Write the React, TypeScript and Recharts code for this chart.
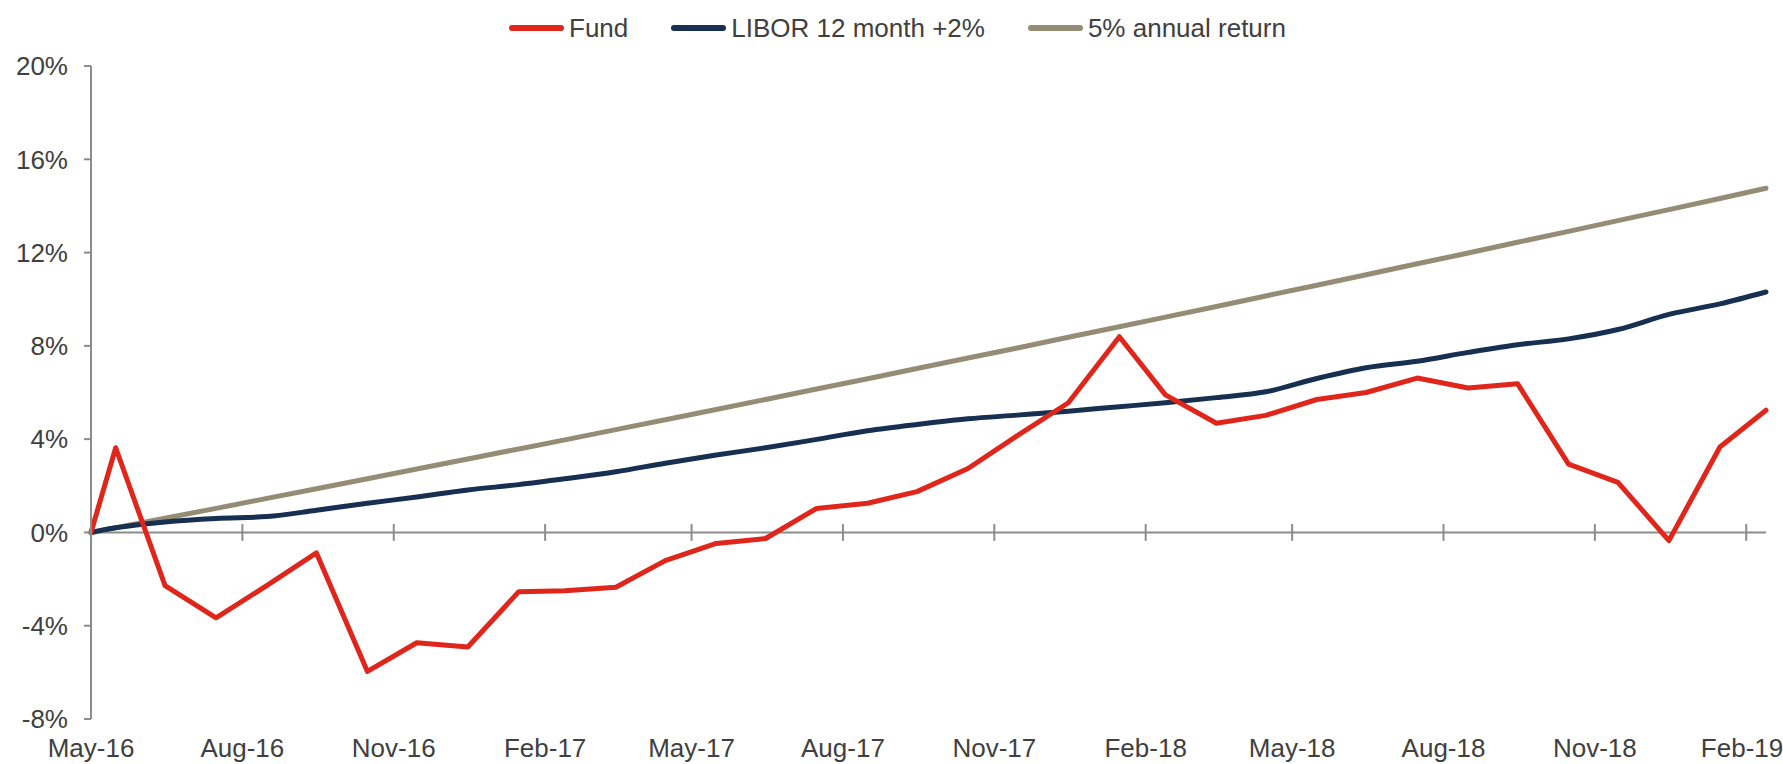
import { LineChart, Line, XAxis, YAxis, ReferenceLine } from "recharts";

const dates = [
  "2016-05-16", "2016-05-31", "2016-06-30", "2016-07-31", "2016-08-31", "2016-09-30",
  "2016-10-31", "2016-11-30", "2016-12-31", "2017-01-31", "2017-02-28", "2017-03-31",
  "2017-04-30", "2017-05-31", "2017-06-30", "2017-07-31", "2017-08-31", "2017-09-30",
  "2017-10-31", "2017-11-30", "2017-12-31", "2018-01-31", "2018-02-28", "2018-03-31",
  "2018-04-30", "2018-05-31", "2018-06-30", "2018-07-31", "2018-08-31", "2018-09-30",
  "2018-10-31", "2018-11-30", "2018-12-31", "2019-01-31", "2019-02-28",
];

const fund = [
  0, 3.63, -2.28, -3.66, -2.27, -0.88, -5.96, -4.73, -4.91, -2.54, -2.5, -2.35,
  -1.21, -0.47, -0.26, 1.03, 1.25, 1.75, 2.74, 4.15, 5.56, 8.39, 5.9, 4.68,
  5.02, 5.7, 6.0, 6.62, 6.19, 6.38, 2.93, 2.15, -0.35, 3.66, 5.24,
];

const libor = [
  0, 0.2, 0.45, 0.6, 0.68, 0.95, 1.25, 1.52, 1.82, 2.05, 2.3, 2.6,
  2.97, 3.32, 3.63, 3.99, 4.36, 4.63, 4.87, 5.03, 5.2, 5.39, 5.56, 5.78,
  6.03, 6.6, 7.06, 7.34, 7.72, 8.05, 8.3, 8.7, 9.35, 9.8, 10.31,
];

const annual5 = [
  0, 0.2, 0.61, 1.03, 1.46, 1.87, 2.3, 2.72, 3.15, 3.58, 3.97, 4.41,
  4.83, 5.27, 5.7, 6.15, 6.59, 7.03, 7.48, 7.91, 8.37, 8.82, 9.23, 9.69,
  10.14, 10.6, 11.05, 11.52, 11.98, 12.44, 12.91, 13.37, 13.84, 14.32, 14.76,
];

const tickDates = [
  "2016-05-16", "2016-08-16", "2016-11-16", "2017-02-16", "2017-05-16", "2017-08-16",
  "2017-11-16", "2018-02-16", "2018-05-16", "2018-08-16", "2018-11-16", "2019-02-16",
];
const tickLabels = [
  "May-16", "Aug-16", "Nov-16", "Feb-17", "May-17", "Aug-17",
  "Nov-17", "Feb-18", "May-18", "Aug-18", "Nov-18", "Feb-19",
];

const yTicks = [-8, -4, 0, 4, 8, 12, 16, 20];

const series = [
  { key: "fund", name: "Fund", color: "#E0251B" },
  { key: "libor", name: "LIBOR 12 month +2%", color: "#172F50" },
  { key: "annual5", name: "5% annual return", color: "#958C75" },
];

const FONT = "'Liberation Sans', Arial, sans-serif";
const TEXT = "#404040";
const AXIS = "#8C8C8C";

const data = dates.map((d, i) => ({
  t: Date.parse(d),
  fund: fund[i],
  libor: libor[i],
  annual5: annual5[i],
}));

const tickTimes = tickDates.map((d) => Date.parse(d));

function XTick(props: any) {
  const { x, y, index } = props;
  // last label sits against the right edge, keep it inside the picture
  const last = index === tickLabels.length - 1;
  return (
    <text
      x={last ? x + 37 : x}
      y={y + 38}
      textAnchor={last ? "end" : "middle"}
      fill={TEXT}
      fontSize={26}
      fontFamily={FONT}
    >
      {tickLabels[index]}
    </text>
  );
}

function ChartLegend() {
  return (
    <div
      style={{
        position: "absolute",
        top: 13,
        left: 509,
        height: 30,
        display: "flex",
        alignItems: "center",
        fontFamily: FONT,
        fontSize: 26,
        lineHeight: "30px",
        color: TEXT,
        whiteSpace: "nowrap",
      }}
    >
      {series.map((s, i) => (
        <div key={s.key} style={{ display: "flex", alignItems: "center", marginLeft: i === 0 ? 0 : 43 }}>
          <div style={{ width: 55, height: 6, borderRadius: 3, background: s.color, marginRight: 5 }} />
          <span>{s.name}</span>
        </div>
      ))}
    </div>
  );
}

export default function App() {
  return (
    <div style={{ position: "absolute", left: 0, top: 0, width: 1783, height: 764, background: "#fff" }}>
      <ChartLegend />
      <LineChart
        width={1783}
        height={764}
        data={data}
        margin={{ top: 66, right: 17, bottom: 0, left: 0 }}
      >
        <XAxis
          dataKey="t"
          type="number"
          domain={["dataMin", "dataMax"]}
          ticks={tickTimes}
          interval={0}
          axisLine={false}
          tickLine={false}
          tickSize={0}
          tickMargin={0}
          height={45}
          tick={<XTick />}
        />
        <YAxis
          domain={[-8, 20]}
          ticks={yTicks}
          width={91}
          tickSize={7}
          tickMargin={16}
          tickFormatter={(v: number) => `${v}%`}
          axisLine={{ stroke: AXIS, strokeWidth: 2 }}
          tickLine={{ stroke: AXIS, strokeWidth: 2 }}
          tick={{ fill: TEXT, fontSize: 26, fontFamily: FONT }}
        />
        <ReferenceLine y={0} stroke={AXIS} strokeWidth={2} />
        {tickTimes.map((t) => (
          <ReferenceLine
            key={t}
            segment={[{ x: t, y: -0.36 }, { x: t, y: 0.36 }]}
            stroke={AXIS}
            strokeWidth={2}
          />
        ))}
        <Line
          dataKey="annual5"
          name="5% annual return"
          stroke="#958C75"
          strokeWidth={5}
          dot={false}
          strokeLinecap="round"
          strokeLinejoin="round"
          isAnimationActive={false}
        />
        <Line
          dataKey="libor"
          name="LIBOR 12 month +2%"
          type="monotone"
          stroke="#172F50"
          strokeWidth={5}
          dot={false}
          strokeLinecap="round"
          strokeLinejoin="round"
          isAnimationActive={false}
        />
        <Line
          dataKey="fund"
          name="Fund"
          stroke="#E0251B"
          strokeWidth={5}
          dot={false}
          strokeLinecap="round"
          strokeLinejoin="round"
          isAnimationActive={false}
        />
      </LineChart>
    </div>
  );
}
